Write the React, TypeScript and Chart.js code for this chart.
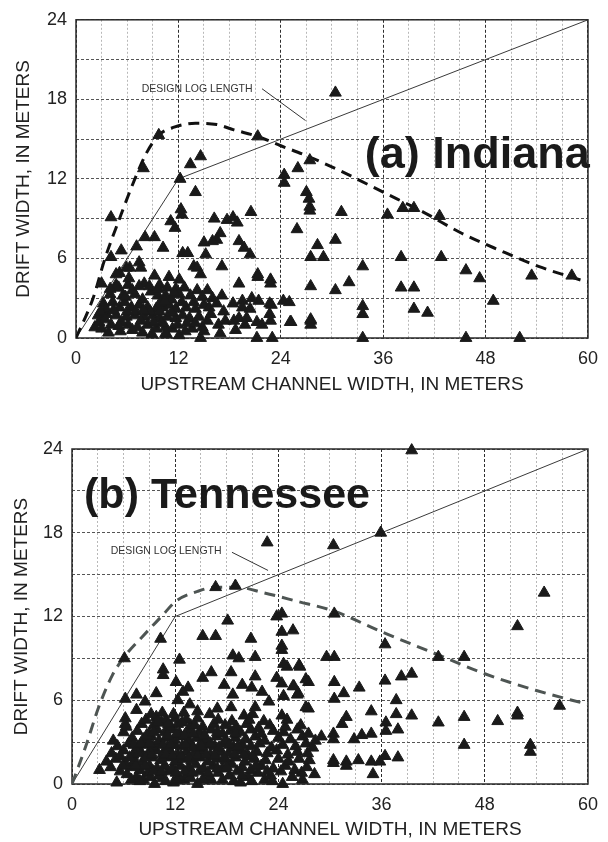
import React, { useEffect, useRef } from "react";
import { Chart, registerables } from "chart.js";

Chart.register(...registerables);

// ---------- shared axis text ----------
const xTickLabels = [0, 12, 24, 36, 48, 60];
const yTickLabels = [0, 6, 12, 18, 24];
const xAxisTitle = "UPSTREAM CHANNEL WIDTH, IN METERS";
const yAxisTitle = "DRIFT WIDTH, IN METERS";
const noteText = "DESIGN LOG LENGTH";

// ---------- design log length line ----------
const designLogX = [0, 12, 60];
const designLogY = [0, 12, 24];

// ---------- (a) Indiana ----------
const indianaLabel = "(a) Indiana";
const indianaCurveX = [0, 2, 3.4, 5.1, 6.9, 8.3, 9.7, 11.5, 14, 16.5, 18.5, 21.3, 24, 27.2, 31, 36, 40.7, 45.2, 49.7, 54.2, 60];
const indianaCurveY = [0, 3, 6, 9, 12, 14, 15.3, 15.9, 16.2, 16.1, 15.7, 15.2, 14.5, 13.7, 12.6, 11.0, 9.5, 7.9, 6.6, 5.4, 4.2];
const indianaNoteAt: [number, number] = [7.7, 18.8];
const indianaLeader: [number, number][] = [[21.8, 18.8], [26.9, 16.4]];
const indianaLabelAt: [number, number] = [60.2, 12.8];
const indianaPoints: [number, number][] = [
  [9.7, 15.3], [14.6, 13.7], [13.4, 13.1], [7.9, 12.8], [12.2, 12.0], [14.0, 11.0], [21.3, 15.2],
  [24.4, 12.3], [24.4, 11.7], [26.0, 12.8], [27.4, 13.4], [27.0, 11.0], [27.3, 10.5], [27.4, 9.9],
  [27.4, 9.6], [25.9, 8.2], [28.3, 7.0], [27.5, 6.1], [29.0, 6.1], [27.5, 3.9], [27.5, 1.3], [27.5, 1.0],
  [25.1, 1.2], [12.3, 9.7], [12.4, 9.3], [11.1, 8.8], [11.6, 8.3], [4.1, 9.1], [16.2, 9.0], [17.7, 8.9],
  [18.4, 9.1], [18.9, 8.7], [20.5, 9.5], [8.1, 7.6], [9.2, 7.6], [7.1, 6.9], [10.2, 6.8], [16.9, 7.9],
  [16.5, 7.4], [16.0, 7.3], [15.0, 7.2], [19.1, 7.3], [19.7, 6.8], [20.4, 6.3], [5.3, 6.6], [4.1, 6.1],
  [12.5, 6.4], [13.1, 6.4], [15.2, 6.3], [17.1, 5.4], [13.8, 5.4], [14.2, 5.3], [14.6, 4.8], [7.4, 5.7],
  [7.6, 5.3], [6.3, 5.3], [5.1, 4.9], [3.0, 4.1], [9.2, 4.7], [10.9, 4.6], [19.1, 4.1], [21.3, 4.8],
  [22.8, 4.4], [22.8, 4.1],
  [30.4, 18.5], [30.4, 7.4], [31.1, 9.5], [36.5, 9.3], [38.3, 9.8], [39.6, 9.8], [42.6, 9.2], [33.6, 5.4],
  [32.0, 4.2], [30.4, 3.6], [38.1, 6.1], [42.8, 6.1], [45.7, 5.1], [47.3, 4.5], [38.1, 3.8], [39.6, 3.8],
  [39.6, 2.2], [41.2, 1.9], [48.9, 2.8], [53.4, 4.7], [58.1, 4.7], [33.6, 2.4], [33.6, 1.8], [33.6, 0],
  [45.7, 0], [52.0, 0], [21.2, 0], [23.0, 0], [25.2, 1.2], [27.5, 1.4], [24.3, 2.8], [25.0, 2.7],
  [22.7, 2.6], [22.7, 1.8], [21.3, 4.6], [14.6, 0], [10.6, 0.3],
  [4.7, 4.0], [6.1, 4.0], [8.0, 4.1], [9.8, 4.0], [10.7, 3.8], [11.7, 3.7], [12.7, 3.8], [14.2, 3.6],
  [15.4, 3.6], [17.1, 3.2], [12.1, 4.4],
  [4.0, 3.3], [5.5, 3.2], [6.9, 3.3], [8.8, 3.5], [9.6, 3.2], [10.5, 3.2], [12.1, 3.3], [13.4, 3.2],
  [14.8, 3.1], [16.0, 3.0], [19.5, 2.8], [21.4, 2.8],
  [3.2, 2.6], [4.3, 2.7], [5.1, 2.3], [6.5, 2.3], [7.4, 2.5], [8.4, 2.3], [9.4, 2.2], [10.2, 2.3],
  [10.9, 2.5], [11.7, 2.2], [12.9, 2.3], [13.8, 2.7], [14.0, 2.2], [15.0, 2.5], [15.6, 2.3], [19.5, 2.3],
  [20.4, 2.2], [22.9, 2.5],
  [2.6, 1.7], [3.6, 1.8], [4.7, 1.7], [5.9, 1.6], [6.9, 1.7], [8.0, 1.6], [9.0, 1.7], [9.8, 1.5],
  [10.7, 1.6], [11.7, 1.5], [12.5, 1.7], [13.3, 1.5], [14.4, 1.6], [15.4, 1.3], [17.5, 1.3], [18.5, 1.3],
  [19.1, 1.5], [20.0, 1.5], [21.2, 1.2], [22.8, 1.3],
  [2.2, 0.8], [3.0, 0.7], [4.1, 1.0], [6.1, 1.0], [7.2, 0.8], [8.4, 1.0], [9.4, 0.7], [10.5, 0.8],
  [11.3, 0.7], [11.9, 1.0], [13.6, 0.7], [14.8, 0.8], [16.7, 1.0], [18.7, 0.6], [21.8, 1.0],
  [10.5, 0.35], [12.1, 0.2], [15.0, 0.5], [16.9, 0.35],
  [5.0, 3.8], [6.6, 3.6], [7.8, 2.9], [8.6, 3.9], [9.9, 2.7], [11.2, 2.9], [12.4, 2.7], [5.7, 2.7],
  [7.0, 2.0], [8.7, 2.0], [11.2, 1.9], [13.0, 1.1], [14.0, 1.1], [5.3, 1.2], [6.6, 0.6], [2.7, 1.2],
  [3.5, 2.2], [10.0, 1.1], [12.8, 0.5], [15.8, 1.8], [16.5, 2.6], [17.3, 2.0], [18.4, 2.6], [20.6, 3.0],
  [19.8, 1.0], [4.7, 4.8], [5.9, 5.3], [4.7, 3.8],
  [3.8, 0.4], [5.2, 0.5], [7.8, 0.4], [8.9, 0.3], [2.9, 2.0], [4.4, 2.1], [6.0, 2.0], [7.9, 2.1],
  [9.8, 2.0], [5.8, 3.1], [7.4, 3.9], [9.6, 3.7], [4.0, 3.7], [6.2, 4.5], [10.4, 2.8], [11.5, 3.4],
  [3.4, 1.4], [5.0, 0.9], [7.6, 1.3], [9.1, 1.2]
];

// ---------- (b) Tennessee ----------
const tennLabel = "(b) Tennessee";
const tennCurveX = [0, 1.6, 3.1, 4.7, 6.2, 8.1, 10.4, 12.1, 14.6, 16.7, 19.2, 22.3, 26.1, 30.4, 36, 42, 48, 54, 60];
const tennCurveY = [0, 2.7, 5.5, 7.8, 9.2, 10.5, 12.0, 13.1, 13.8, 14.1, 14.1, 13.7, 13.1, 12.4, 10.9, 9.4, 7.9, 6.7, 5.7];
const tennNoteAt: [number, number] = [4.5, 16.7];
const tennLeader: [number, number][] = [[18.6, 16.6], [22.8, 15.3]];
const tennLabelAt: [number, number] = [1.4, 19.8];
const tennScatter: [number, number][] = [
  [16.7, 14.1], [19.0, 14.2], [18.1, 11.7], [23.8, 12.0], [24.4, 12.2], [30.5, 12.2], [24.4, 10.9],
  [25.7, 11.0], [24.4, 9.9], [24.4, 9.6], [15.2, 10.6], [16.7, 10.6], [20.8, 10.4], [10.3, 10.4],
  [6.1, 9.0], [12.5, 8.9], [18.7, 9.2], [19.4, 9.0], [21.3, 9.1], [29.6, 9.1], [30.5, 9.1], [25.0, 8.4],
  [26.5, 8.4], [10.6, 8.2], [10.6, 7.8], [16.2, 8.0], [15.2, 7.6], [18.5, 8.0], [21.3, 7.7], [23.8, 7.6],
  [24.4, 7.2], [25.7, 7.0], [27.5, 7.3], [30.5, 7.3], [12.1, 7.3], [17.7, 7.1], [19.8, 7.1], [20.9, 6.9],
  [22.1, 6.6], [13.5, 6.9], [12.9, 6.6], [9.8, 6.5], [7.5, 6.4], [18.7, 6.4], [22.9, 5.9], [26.3, 6.5],
  [27.5, 5.4], [30.5, 6.1], [6.2, 6.1], [8.5, 5.9], [12.3, 6.0], [13.7, 5.7], [14.6, 5.2], [16.9, 5.4],
  [18.5, 5.5], [21.3, 5.5], [6.2, 4.7], [6.2, 4.3], [7.5, 5.3], [24.4, 4.9], [20.0, 4.9],
  [39.5, 23.9], [35.9, 18.0], [30.4, 17.1], [22.7, 17.3], [54.9, 13.7], [51.8, 11.3], [36.4, 10.0],
  [42.6, 9.1], [45.6, 9.1], [38.3, 7.7], [39.5, 7.9], [36.4, 7.4], [33.4, 6.9], [31.6, 6.5], [37.7, 6.0],
  [56.7, 5.6], [34.8, 5.2], [37.7, 5.0], [39.5, 4.9], [45.6, 4.8], [51.8, 5.1], [51.8, 4.9], [49.5, 4.5],
  [42.6, 4.4], [31.9, 4.8], [31.4, 4.3], [36.5, 4.4], [37.9, 3.9], [36.5, 3.8], [34.8, 3.6], [33.7, 3.5],
  [32.8, 3.2], [30.4, 3.6], [30.4, 3.2], [29.0, 3.4], [45.6, 2.8], [53.3, 2.8], [53.3, 2.3], [36.4, 2.0],
  [35.8, 1.6], [34.8, 1.6], [33.3, 1.7], [31.9, 1.6], [31.9, 1.3], [30.4, 1.7], [30.4, 1.5], [35.0, 0.7],
  [37.9, 1.9], [24.6, 8.6], [26.4, 8.5], [25.8, 7.0], [27.2, 7.5], [24.6, 6.3], [26.2, 6.4], [27.2, 5.5]
];
const tennCluster: [number, number][] = [
  [5.2, 0.1], [8.3, 0.3], [9.6, 0.0], [10.5, 0.4], [11.8, 0.1], [13.0, 0.3], [14.6, 0.0], [16.2, 0.3],
  [19.6, 0.1], [22.4, 0.3], [24.5, 0.0], [26.8, 0.3],
  [6.4, 0.7], [7.5, 0.5], [8.8, 0.8], [10.1, 0.6], [11.2, 0.9], [12.4, 0.5], [13.5, 0.7], [14.8, 0.9],
  [15.9, 0.5], [17.0, 0.8], [18.3, 0.6], [19.2, 0.9], [20.5, 0.5], [21.6, 0.8], [23.1, 0.6], [24.3, 0.9],
  [25.6, 0.5], [26.7, 0.8], [28.2, 0.7],
  [3.2, 1.0], [4.5, 1.2], [5.6, 0.9], [6.9, 1.2], [7.9, 1.0], [9.0, 1.3], [9.9, 1.1], [10.8, 1.3],
  [11.7, 1.1], [12.6, 1.3], [13.6, 1.2], [14.4, 1.4], [15.3, 1.1], [16.4, 1.3], [17.5, 1.1], [18.6, 1.4],
  [19.8, 1.2], [20.8, 1.0], [22.0, 1.3], [23.4, 1.1], [24.8, 1.3], [25.9, 1.0], [27.3, 1.2],
  [4.0, 1.6], [5.1, 1.8], [6.2, 1.5], [7.3, 1.7], [8.2, 1.6], [9.3, 1.9], [10.3, 1.7], [11.0, 1.9],
  [12.0, 1.6], [12.9, 1.8], [13.9, 1.7], [14.9, 1.9], [15.8, 1.6], [16.9, 1.8], [17.9, 1.7], [19.0, 1.9],
  [20.1, 1.6], [21.2, 1.8], [22.5, 1.7], [24.0, 1.8], [25.2, 1.6], [26.4, 1.8], [27.6, 1.7],
  [4.6, 2.2], [6.0, 2.4], [7.1, 2.1], [8.0, 2.3], [8.9, 2.2], [9.8, 2.4], [10.6, 2.2], [11.4, 2.4],
  [12.3, 2.1], [13.3, 2.3], [14.2, 2.2], [15.2, 2.4], [16.1, 2.1], [17.2, 2.3], [18.2, 2.2], [19.4, 2.4],
  [20.4, 2.1], [21.5, 2.3], [22.7, 2.2], [23.8, 2.4], [25.1, 2.1], [26.2, 2.3], [27.4, 2.2],
  [5.3, 2.7], [6.6, 2.9], [7.6, 2.6], [8.5, 2.8], [9.4, 2.7], [10.2, 2.9], [11.1, 2.6], [12.0, 2.8],
  [12.8, 2.7], [13.8, 2.9], [14.7, 2.6], [15.6, 2.8], [16.6, 2.7], [17.6, 2.9], [18.8, 2.6], [19.8, 2.8],
  [20.8, 2.7], [21.8, 2.9], [23.2, 2.6], [24.5, 2.8], [26.0, 2.7], [27.2, 2.9], [28.0, 2.6],
  [4.8, 3.1], [7.0, 3.3], [8.3, 3.2], [9.2, 3.4], [10.1, 3.1], [11.0, 3.3], [11.9, 3.2], [12.7, 3.4],
  [13.5, 3.1], [14.5, 3.3], [15.4, 3.2], [16.8, 3.4], [17.9, 3.1], [19.0, 3.3], [20.2, 3.2], [21.3, 3.4],
  [22.4, 3.1], [24.0, 3.3], [25.4, 3.2], [26.8, 3.4], [28.3, 3.1],
  [6.0, 3.7], [7.6, 3.8], [9.0, 3.6], [9.9, 3.9], [10.8, 3.7], [11.6, 3.9], [12.5, 3.6], [13.6, 3.8],
  [14.8, 3.7], [16.2, 3.9], [17.5, 3.6], [18.4, 3.8], [19.6, 3.7], [20.8, 3.9], [22.0, 3.6], [23.4, 3.8],
  [24.6, 3.7], [26.2, 3.9], [27.5, 3.6],
  [6.3, 4.1], [8.1, 4.3], [9.5, 4.2], [10.4, 4.4], [11.5, 4.1], [12.3, 4.3], [13.8, 4.2], [15.2, 4.1],
  [16.5, 4.3], [17.8, 4.2], [19.1, 4.1], [20.3, 4.3], [21.7, 4.0], [23.0, 4.2], [24.8, 4.1], [26.6, 4.2],
  [8.6, 4.6], [9.8, 4.8], [10.9, 4.6], [12.0, 4.7], [13.3, 4.6], [14.6, 4.7], [17.0, 4.6], [18.6, 4.5],
  [20.6, 4.6], [22.3, 4.5], [25.0, 4.6],
  [9.2, 5.0], [10.5, 5.1], [11.8, 5.0], [13.0, 5.1], [16.0, 5.0], [21.0, 5.0]
];
const tennClusterCore: [number, number][] = [
  [6.9, 0.3], [7.9, 0.2], [9.1, 0.5], [10.9, 0.2], [12.2, 0.3], [13.8, 0.4], [15.2, 0.3], [17.5, 0.3],
  [18.8, 0.2], [20.9, 0.2], [23.3, 0.2],
  [5.9, 1.3], [7.4, 1.3], [8.5, 1.3], [9.5, 0.9], [10.4, 0.9], [12.1, 0.8], [13.1, 0.9], [14.0, 0.8],
  [15.8, 0.8], [16.9, 1.1], [18.0, 1.2], [19.8, 0.6], [21.4, 1.3], [22.7, 0.9],
  [5.6, 2.0], [6.7, 1.9], [7.7, 2.2], [8.6, 1.9], [9.3, 2.1], [10.9, 2.1], [11.7, 2.0], [12.7, 2.0],
  [13.6, 1.9], [14.6, 2.0], [15.6, 2.1], [16.6, 2.0], [17.7, 1.9], [18.9, 2.1], [20.0, 2.1], [21.0, 2.0],
  [7.2, 2.8], [8.0, 2.9], [9.0, 2.9], [10.6, 2.8], [11.5, 2.8], [13.2, 2.8], [14.1, 2.6], [15.1, 2.7],
  [16.1, 2.9], [17.1, 2.6], [18.3, 2.8], [19.3, 2.7],
  [8.7, 3.5], [9.5, 3.7], [11.1, 3.5], [12.2, 3.6], [13.1, 3.5], [14.1, 3.6], [15.4, 3.5], [16.9, 3.7],
  [19.0, 3.6], [10.0, 4.4], [11.2, 4.3], [12.8, 4.4], [14.3, 4.2]
];

// ---------- styles ----------
const FONT = "'Liberation Sans', Arial, Helvetica, sans-serif";
const INK = "#1a1a1a";

type PanelCfg = {
  curveX: number[];
  curveY: number[];
  curveColor: string;
  points: [number, number][];
  label: string;
  labelAt: [number, number];
  labelAlign: CanvasTextAlign;
  labelSize: number;
  noteAt: [number, number];
  leader: [number, number][];
  yAxisWidth: number;
  xAxisHeight: number;
  padding: { top: number; right: number; left: number; bottom: number };
  yTitlePad: number;
  xTitlePad: number;
};

function tickText(allowed: number[]) {
  return (v: any) => {
    const n = Number(v);
    const r = Math.round(n);
    return Math.abs(n - r) < 1e-6 && allowed.includes(r) ? String(r) : "";
  };
}

function buildChart(canvas: HTMLCanvasElement, cfg: PanelCfg) {
  const framePlugin = {
    id: "frame",
    beforeDatasetsDraw(chart: any) {
      const { ctx, chartArea: a } = chart;
      ctx.save();
      ctx.strokeStyle = "#2a2a2a";
      ctx.lineWidth = 1.5;
      ctx.strokeRect(a.left, a.top, a.right - a.left, a.bottom - a.top);
      ctx.restore();
    },
  };
  const notePlugin = {
    id: "notes",
    afterDatasetsDraw(chart: any) {
      const xs = chart.scales.x;
      const ys = chart.scales.y;
      const ctx = chart.ctx;
      ctx.save();
      ctx.strokeStyle = "#333";
      ctx.lineWidth = 1;
      ctx.beginPath();
      ctx.moveTo(xs.getPixelForValue(cfg.leader[0][0]), ys.getPixelForValue(cfg.leader[0][1]));
      ctx.lineTo(xs.getPixelForValue(cfg.leader[1][0]), ys.getPixelForValue(cfg.leader[1][1]));
      ctx.stroke();
      ctx.fillStyle = "#333";
      ctx.font = `10.5px ${FONT}`;
      ctx.textAlign = "left";
      ctx.textBaseline = "middle";
      ctx.fillText(noteText, xs.getPixelForValue(cfg.noteAt[0]), ys.getPixelForValue(cfg.noteAt[1]));
      ctx.fillStyle = INK;
      ctx.font = `bold ${cfg.labelSize}px ${FONT}`;
      ctx.textAlign = cfg.labelAlign;
      ctx.textBaseline = "alphabetic";
      ctx.fillText(cfg.label, xs.getPixelForValue(cfg.labelAt[0]), ys.getPixelForValue(cfg.labelAt[1]));
      ctx.restore();
    },
  };

  return new Chart(canvas, {
    type: "scatter",
    data: {
      datasets: [
        {
          label: "observed",
          data: cfg.points.map(([x, y]) => ({ x, y })),
          pointStyle: "triangle",
          pointRadius: 6.8,
          pointHoverRadius: 6.8,
          backgroundColor: INK,
          borderColor: INK,
          borderWidth: 1,
          showLine: false,
          clip: false,
          order: 1,
        } as any,
        {
          label: "envelope",
          data: cfg.curveX.map((x, i) => ({ x, y: cfg.curveY[i] })),
          showLine: true,
          borderColor: cfg.curveColor,
          borderWidth: 3,
          borderDash: [11, 7],
          pointRadius: 0,
          cubicInterpolationMode: "monotone",
          fill: false,
          order: 2,
        } as any,
        {
          label: "design",
          data: designLogX.map((x, i) => ({ x, y: designLogY[i] })),
          showLine: true,
          borderColor: "#3a3a3a",
          borderWidth: 1,
          pointRadius: 0,
          tension: 0,
          fill: false,
          order: 3,
        } as any,
      ],
    },
    options: {
      responsive: false,
      animation: false,
      devicePixelRatio: 1,
      layout: { padding: cfg.padding },
      plugins: { legend: { display: false }, tooltip: { enabled: false } },
      scales: {
        x: {
          type: "linear",
          min: 0,
          max: 60,
          afterFit: (s: any) => {
            s.height = cfg.xAxisHeight;
          },
          ticks: {
            stepSize: 3,
            autoSkip: false,
            maxRotation: 0,
            padding: 10,
            color: "#222",
            font: { size: 18, family: FONT },
            callback: tickText(xTickLabels),
          },
          grid: {
            drawTicks: false,
            lineWidth: 1,
            color: (c: any) => (c.tick && Math.round(c.tick.value) % 12 === 0 ? "#2e2e2e" : "#b8b8b8"),
          },
          border: {
            display: false,
            dash: (c: any) => (c.tick && Math.round(c.tick.value) % 12 === 0 ? [3, 2] : [2, 2]),
          },
          title: {
            display: true,
            text: xAxisTitle,
            color: "#222",
            font: { size: 19, family: FONT },
            padding: { top: 0, bottom: cfg.xTitlePad },
          },
        } as any,
        y: {
          type: "linear",
          min: 0,
          max: 24,
          afterFit: (s: any) => {
            s.width = cfg.yAxisWidth;
          },
          ticks: {
            stepSize: 3,
            autoSkip: false,
            padding: 9,
            color: "#222",
            font: { size: 18, family: FONT },
            callback: tickText(yTickLabels),
          },
          grid: {
            drawTicks: false,
            lineWidth: 1,
            color: "#555555",
          },
          border: {
            display: false,
            dash: [3, 2],
          },
          title: {
            display: true,
            text: yAxisTitle,
            color: "#222",
            font: { size: 19, family: FONT },
            padding: { top: cfg.yTitlePad, bottom: 0 },
          },
        } as any,
      },
    },
    plugins: [framePlugin, notePlugin],
  });
}

function Panel(props: { cfg: PanelCfg; top: number; height: number }) {
  const ref = useRef<HTMLCanvasElement | null>(null);
  useEffect(() => {
    if (!ref.current) return;
    const chart = buildChart(ref.current, props.cfg);
    return () => chart.destroy();
  }, []);
  return (
    <canvas
      ref={ref}
      width={608}
      height={props.height}
      style={{ position: "absolute", left: 0, top: props.top, width: 608, height: props.height }}
    />
  );
}

const panelA: PanelCfg = {
  curveX: indianaCurveX,
  curveY: indianaCurveY,
  curveColor: "#111111",
  points: indianaPoints,
  label: indianaLabel,
  labelAt: indianaLabelAt,
  labelAlign: "right",
  labelSize: 45,
  noteAt: indianaNoteAt,
  leader: indianaLeader,
  yAxisWidth: 76,
  xAxisHeight: 72,
  padding: { top: 16, right: 16, left: 0, bottom: 0 },
  yTitlePad: 12.6,
  xTitlePad: 13.6,
};

const panelB: PanelCfg = {
  curveX: tennCurveX,
  curveY: tennCurveY,
  curveColor: "#4e5553",
  points: [...tennScatter, ...tennCluster, ...tennClusterCore],
  label: tennLabel,
  labelAt: tennLabelAt,
  labelAlign: "left",
  labelSize: 43,
  noteAt: tennNoteAt,
  leader: tennLeader,
  yAxisWidth: 72,
  xAxisHeight: 58,
  padding: { top: 29, right: 13, left: 0, bottom: 0 },
  yTitlePad: 10.6,
  xTitlePad: 0.6,
};

export default function App() {
  return (
    <div style={{ position: "absolute", left: 0, top: 0, width: 608, height: 842, background: "#fff" }}>
      <Panel cfg={panelA} top={0} height={410} />
      <Panel cfg={panelB} top={420} height={422} />
    </div>
  );
}
